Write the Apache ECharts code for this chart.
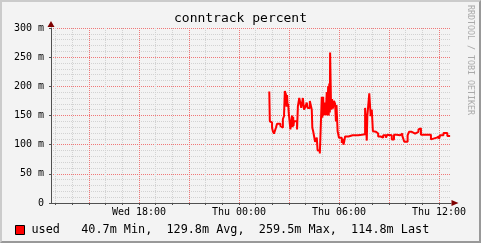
<!DOCTYPE html>
<html><head><meta charset="utf-8">
<script src="https://cdn.jsdelivr.net/npm/echarts@6/dist/echarts.min.js"></script>
<style>
html,body{margin:0;padding:0;background:#f3f3f3;}
#wrap{position:relative;width:481px;height:243px;overflow:hidden;}
#chart{width:481px;height:243px;}
#frame{position:absolute;left:0;top:0;width:481px;height:243px;box-sizing:border-box;border-top:2px solid #cbcbcb;border-left:2px solid #cbcbcb;border-right:2px solid #999;border-bottom:2px solid #999;pointer-events:none;}
</style></head>
<body><div id="wrap"><div id="chart"></div><div id="frame"></div></div>
<script>
const titleText = 'conntrack percent';
const seriesName = 'used';
const watermark = 'RRDTOOL / TOBI OETIKER';
// minutes relative to Thu 00:00, values in milli-units (m)
const minutes = [109,111,115,119,122,126,133,137,149,155,158,162,165,169,171,173,175,177,179,185,188,191,193,195,196,198,209,212,217,224,230,234,238,244,247,255,262,264,267,274,280,283,291,298,300,303,305,308,312,316,318,321,323,325,327,328,331,333,335,338,342,346,349,351,355,360,370,373,376,379,382,394,400,409,414,429,442,447,454,460,462,466,469,474,478,482,486,493,501,510,519,529,534,541,550,558,568,573,580,585,588,592,595,607,612,622,634,646,652,655,681,691,696,712,715,717,720,724,736,750,760];
const values  = [191,140,138,129,123,119,129,136,132,129,144,149,192,186,165,185,166,170,155,126,129,150,130,148,132,140,126,166,180,163,180,160,164,172,163,175,160,129,123,105,112,90,85,182,146,182,150,172,151,190,150,200,150,205,155,258,177,160,178,162,175,170,140,168,123,112,103,110,100,106,114,113,116,113,116,117,116,118,163,107,149,151,188,149,160,123,122,119,114,112,116,112,117,116,109,117,119,116,117,119,115,117,105,116,122,119,122,126,128,117,117,109,112,114,110,114,110,116,120,115,115];
const xLabelMinutes = [-360, 0, 360, 720];
const xLabels = ['Wed 18:00', 'Thu 00:00', 'Thu 06:00', 'Thu 12:00'];
const statValues = ['40.7m', '129.8m', '259.5m', '114.8m'];
const statNames = ['Min', 'Avg', 'Max', 'Last'];
const xMin = -676.8, xMax = 763.2;          // minutes, whole visible window (24 h)
const yMin = 0, yMax = 300, yMinor = 10, yMajor = 50;
const firstGridHour = -660, lastGridHour = 720;

const mono = 'DejaVu Sans Mono';
const minorC = '#d2d2d2', majorC = '#f07878', axisC = '#505050', arrowC = '#7f0000';

const G = {left: 51, top: 28, width: 400, height: 175};
const pxPerMin = G.width / (xMax - xMin);
const subGrid = {left: G.left + (firstGridHour - xMin) * pxPerMin, top: G.top,
  width: (lastGridHour - firstGridHour) * pxPerMin, height: G.height};

const hourTicks = [];
for (let m = firstGridHour; m <= lastGridHour; m += 60) hourTicks.push(m);

const legendText = seriesName + '   ' + statValues.map((v, i) => v + ' ' + statNames[i] + (i < statValues.length - 1 ? ',' : '')).join('  ');

const chart = echarts.init(document.getElementById('chart'), null, {renderer: 'canvas'});
chart.setOption({
  animation: false,
  backgroundColor: '#f3f3f3',
  title: {text: titleText, left: 'center', top: 12, padding: 0,
    textStyle: {fontFamily: mono, fontSize: 13, fontWeight: 'normal', color: '#000'}},
  legend: {left: 15, top: 224, padding: 0, itemWidth: 9, itemHeight: 9, icon: 'rect',
    itemStyle: {borderColor: '#000', borderWidth: 1},
    formatter: () => legendText,
    textStyle: {fontFamily: mono, fontSize: 11.8, color: '#000', padding: [0, 0, 0, 2]},
    data: [seriesName]},
  grid: [G, subGrid],
  xAxis: [{
    type: 'value', gridIndex: 0, min: xMin, max: xMax,
    axisLine: {show: true, onZero: false, lineStyle: {color: axisC, width: 1}},
    axisTick: {show: true, length: 2, customValues: hourTicks, lineStyle: {color: axisC}},
    axisLabel: {show: true, customValues: xLabelMinutes, margin: 4, fontFamily: mono, fontSize: 10, color: '#000',
      formatter: v => xLabels[xLabelMinutes.indexOf(v)] || ''},
    splitLine: {show: false}
  }, {
    type: 'value', gridIndex: 0, min: xMin, max: xMax, position: 'bottom',
    axisLine: {show: true, onZero: false, symbol: ['none', 'triangle'], symbolSize: [6, 7], symbolOffset: [0, 4],
      lineStyle: {color: arrowC, width: 0}},
    axisTick: {show: false}, axisLabel: {show: false}, splitLine: {show: false}
  }, {
    type: 'value', gridIndex: 1, min: firstGridHour, max: lastGridHour, interval: 60,
    axisLine: {show: false}, axisTick: {show: false}, axisLabel: {show: false},
    splitLine: {show: true, lineStyle: {color: [minorC, minorC, majorC], type: [1, 1], width: 1}}
  }],
  yAxis: [{
    type: 'value', gridIndex: 0, min: yMin, max: yMax, interval: yMinor,
    axisLine: {show: false}, axisTick: {show: false}, axisLabel: {show: false},
    splitLine: {show: true, lineStyle: {color: [majorC, minorC, minorC, minorC, minorC], type: [1, 1], width: 1}}
  }, {
    type: 'value', gridIndex: 0, min: yMin, max: yMax, interval: yMajor, position: 'left',
    axisLine: {show: true, onZero: false, lineStyle: {color: axisC, width: 1}},
    axisTick: {show: true, length: 2, lineStyle: {color: axisC}},
    axisLabel: {margin: 7, fontFamily: mono, fontSize: 10, color: '#000',
      formatter: v => v === 0 ? '0' : v + ' m'},
    splitLine: {show: false}
  }, {
    type: 'value', gridIndex: 0, min: yMin, max: yMax, position: 'left',
    axisLine: {show: true, onZero: false, symbol: ['none', 'triangle'], symbolSize: [7, 6], symbolOffset: [0, 4],
      lineStyle: {color: arrowC, width: 0}},
    axisTick: {show: false}, axisLabel: {show: false}, splitLine: {show: false}
  }, {type: 'value', gridIndex: 1, min: yMin, max: yMax, show: false}],
  graphic: [{
    type: 'text', x: 470, y: 5, rotation: -Math.PI / 2, silent: true,
    style: {text: watermark, font: '8.3px "DejaVu Sans Mono"', fill: '#aaaaaa', textAlign: 'left', textVerticalAlign: 'middle'}
  }],
  series: [{
    name: seriesName, type: 'line', step: 'end', showSymbol: false, xAxisIndex: 0, yAxisIndex: 1,
    color: '#ff0000', z: 5,
    lineStyle: {color: '#ff0000', width: 2},
    data: minutes.map((m, i) => [m, values[i]])
  }]
});
</script>
</body></html>
